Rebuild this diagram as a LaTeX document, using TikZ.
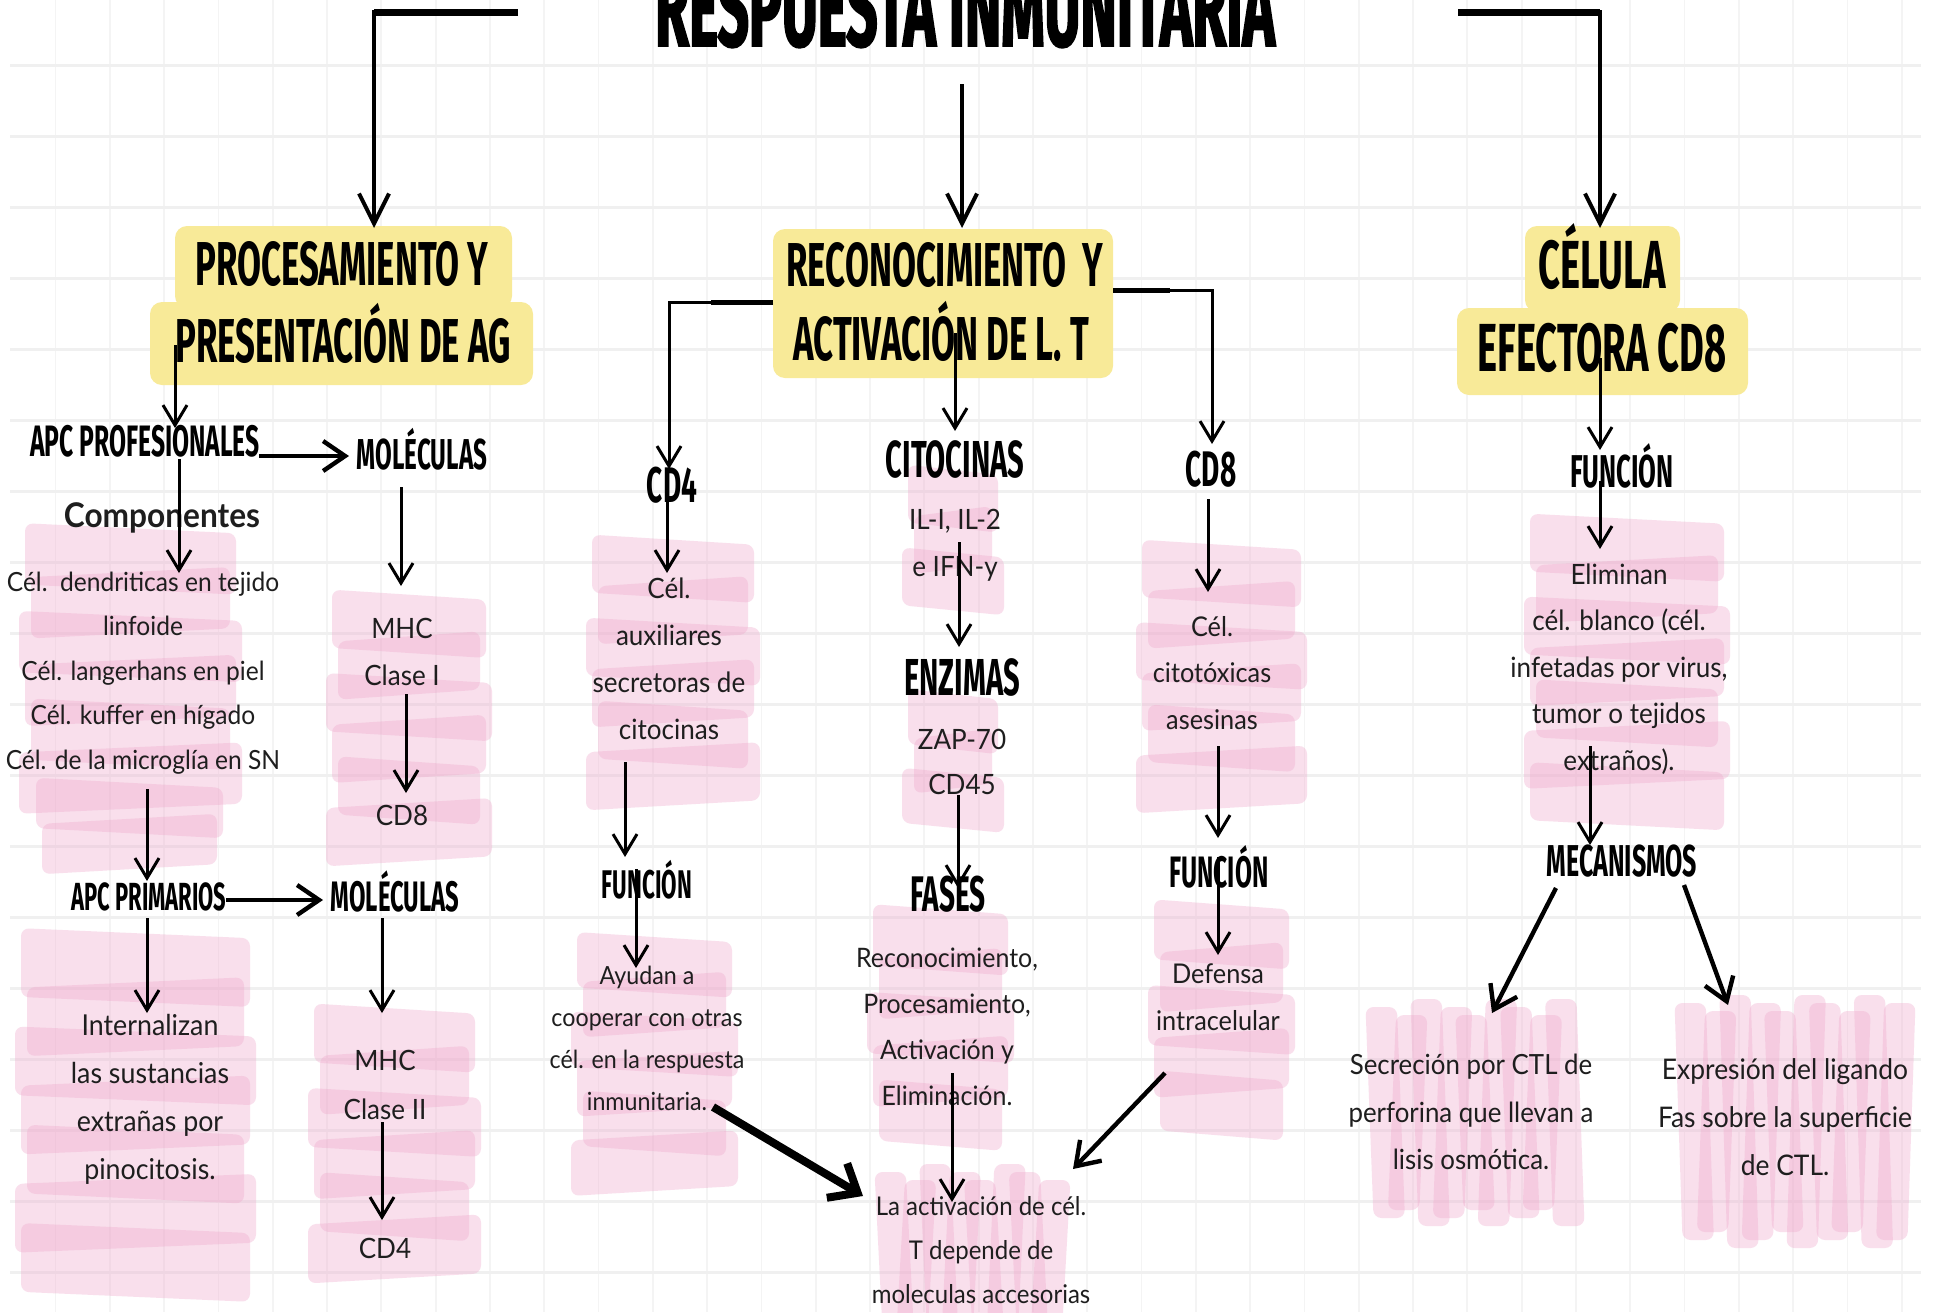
\documentclass[tikz,border=0pt]{standalone}
\usepackage{fontspec}
\setmainfont[FakeStretch=0.93]{Lato}
\newfontfamily\hfont[FakeStretch=0.56]{Fira Sans}
\newfontfamily\tfont[FakeStretch=0.5,FakeBold=1.5]{Fira Sans}
\usetikzlibrary{arrows.meta,calc}
\definecolor{yel}{HTML}{F8EA98}
\definecolor{pk}{HTML}{EFA8CC}
\definecolor{txt}{HTML}{1E1E1E}
\definecolor{gridh}{HTML}{F0F0F0}
\definecolor{gridv}{HTML}{F4F4F4}
\newcommand\hband[5]{%
  \pgfmathsetmacro\pkh{(#4-#2)/#5}%
  \foreach \pki in {1,...,#5}{%
    \pgfmathsetmacro\pya{#2+(\pki-1)*\pkh-0.2*\pkh}%
    \pgfmathsetmacro\pyb{#2+\pki*\pkh+0.2*\pkh}%
    \pgfmathsetmacro\pkd{mod(\pki,2)==0 ? 5 : -5}%
    \pgfmathsetmacro\pxo{mod(\pki*7,3)*6-6}%
    \pgfmathsetmacro\pxa{#1+\pxo}%
    \pgfmathsetmacro\pxb{#3-\pxo}%
    \pgfmathsetmacro\pyaa{\pya+\pkd}%
    \pgfmathsetmacro\pyab{\pya-\pkd}%
    \pgfmathsetmacro\pyba{\pyb+\pkd}%
    \pgfmathsetmacro\pybb{\pyb-\pkd}%
    \fill[pkf] (\pxa,\pyaa) -- (\pxb,\pyab) -- (\pxb,\pybb) -- (\pxa,\pyba) -- cycle;
  }}
\newcommand\vband[5]{%
  \pgfmathsetmacro\pkh{(#3-#1)/#5}%
  \foreach \pki in {1,...,#5}{%
    \pgfmathsetmacro\pxa{#1+(\pki-1)*\pkh-0.2*\pkh}%
    \pgfmathsetmacro\pxb{#1+\pki*\pkh+0.2*\pkh}%
    \pgfmathsetmacro\pkd{mod(\pki,2)==0 ? 4 : -4}%
    \pgfmathsetmacro\pyo{mod(\pki*7,3)*8-8}%
    \pgfmathsetmacro\pya{#2+\pyo}%
    \pgfmathsetmacro\pyb{#4-\pyo}%
    \pgfmathsetmacro\pxaa{\pxa+\pkd}%
    \pgfmathsetmacro\pxab{\pxa-\pkd}%
    \pgfmathsetmacro\pxba{\pxb+\pkd}%
    \pgfmathsetmacro\pxbb{\pxb-\pkd}%
    \fill[pkf] (\pxaa,\pya) -- (\pxba,\pya) -- (\pxbb,\pyb) -- (\pxab,\pyb) -- cycle;
  }}
\begin{document}
\begin{tikzpicture}[x=0.5pt,y=-0.5pt,
  pkf/.style={fill=pk,fill opacity=0.36,rounded corners=4pt},
  hd/.style={inner sep=0,anchor=base,text=black,font=\hfont\bfseries\fontsize{#1}{#1}\selectfont},
  bd/.style args={#1/#2}{inner sep=0,align=center,text=txt,font=\fontsize{#1}{#2}\selectfont},
  arr/.style={draw=black,line width=1.5pt,-{Straight Barb[length=10pt,width=12pt]}},
  midarr/.style={draw=black,line width=2.2pt,-{Straight Barb[length=11pt,width=15pt]}},
  bigarr/.style={draw=black,line width=2pt,-{Straight Barb[length=15pt,width=15pt]}},
  fatarr/.style={draw=black,line width=4pt,-{Straight Barb[length=12pt,width=20pt]}},
  ybox/.style={fill=yel,rounded corners=6pt}]
\useasboundingbox (0,0) rectangle (1933,1312);
\clip (0,0) rectangle (1933,1312);
\fill[white] (0,0) rectangle (1933,1312);
% grid
\foreach \k in {0,...,34} \draw[gridv,line width=0.9pt] ({55.5+54.3*\k},0) -- ({55.5+54.3*\k},1312);
\foreach \k in {0,...,17} \draw[gridh,line width=1.5pt] (10,{65+71*\k}) -- (1921,{65+71*\k});
% pink highlights
\hband{25}{537}{236}{800}{6}
\hband{36}{790}{223}{862}{2}
\hband{332}{603}{486}{853}{6}
\hband{21}{943}{250}{1287}{7}
\hband{314}{1017}{475}{1270}{6}
\hband{592}{548}{754}{797}{6}
\hband{908}{478}{998}{602}{3}
\hband{908}{702}{998}{820}{3}
\hband{1142}{553}{1301}{800}{6}
\hband{577}{945}{732}{1183}{6}
\hband{873}{918}{1008}{1137}{5}
\hband{1154}{913}{1289}{1127}{5}
\vband{883}{1172}{1062}{1330}{8}
\hband{1530}{527}{1724}{817}{7}
\vband{1374}{1007}{1576}{1218}{9}
\vband{1683}{1003}{1907}{1240}{10}
% yellow boxes
\fill[ybox] (175,226) rectangle (512,308);
\fill[ybox] (150,302) rectangle (533,385);
\fill[ybox] (773,229) rectangle (1113,378);
\fill[ybox] (1525,226) rectangle (1680,312);
\fill[ybox] (1457,308) rectangle (1748,395);
% title and headers
\node[inner sep=0,anchor=base,font=\tfont\bfseries\fontsize{55}{55}\selectfont] (title) at (965,46) {RESPUESTA INMUNITARIA};
\node[hd=31] (b1a) at (342,285) {PROCESAMIENTO Y};
\node[hd=31] (b1b) at (343,362) {PRESENTACIÓN DE AG};
\node[hd=31] (b2a) at (945,286) {RECONOCIMIENTO\ \ Y};
\node[hd=31] (b2b) at (941,360) {ACTIVACIÓN DE L. T};
\node[hd=34] (b3a) at (1602,288) {CÉLULA};
\node[hd=34] (b3b) at (1602,371) {EFECTORA CD8};
\node[hd=22] (apcp) at (145,456) {APC PROFESIONALES};
\node[hd=21.6] (mol1) at (422,469) {MOLÉCULAS};
\node[inner sep=0,anchor=base,text=txt,font=\bfseries\fontsize{17}{17}\selectfont] (comp) at (162,527) {Componentes};
\node[hd=19.6] (apcprim) at (149,910) {APC PRIMARIOS};
\node[hd=21.3] (mol2) at (395,911) {MOLÉCULAS};
\node[hd=25] (cd4h) at (672,502) {CD4};
\node[hd=26] (cit) at (955,477) {CITOCINAS};
\node[hd=25] (cd8h) at (1211,486) {CD8};
\node[hd=26] (enz) at (962,695) {ENZIMAS};
\node[hd=25] (fases) at (948,911) {FASES};
\node[hd=20] (fun1) at (647,898) {FUNCIÓN};
\node[hd=22] (fun2) at (1219,887) {FUNCIÓN};
\node[hd=23] (fun3) at (1622,487) {FUNCIÓN};
\node[hd=22.3] (mec) at (1622,876) {MECANISMOS};
% body texts
\node[bd=13.2/22.25] (comptxt) at (143,673) {Cél.\ \ dendriticas en tejido\\linfoide\\Cél. langerhans en piel\\Cél. kuffer en hígado\\Cél. de la microglía en SN};
\node[bd=14/23.5] (mhc1) at (402,652) {MHC\\Clase I};
\node[bd=14/23.5] (cd8a) at (402,815) {CD8};
\node[bd=14.4/24] (intern) at (150,1099) {Internalizan\\las sustancias\\extrañas por\\pinocitosis.};
\node[bd=14/24.5] (mhc2) at (385,1085) {MHC\\Clase II};
\node[bd=14/24.5] (cd4a) at (385,1248) {CD4};
\node[bd=14/23.5] (celaux) at (669,659) {Cél.\\auxiliares\\secretoras de\\citocinas};
\node[bd=12.5/21] (ayud) at (647,1038) {Ayudan a\\cooperar con otras\\cél. en la respuesta\\inmunitaria.};
\node[bd=14/23.5] (il) at (955,545) {IL-I, IL-2\\e IFN-y};
\node[bd=14/22.5] (zap) at (962,762) {ZAP-70\\CD45};
\node[bd=13.4/23] (fastxt) at (947,1027) {Reconocimiento,\\Procesamiento,\\Activación y\\Eliminación.};
\node[bd=12.9/22] (lact) at (981,1250) {La activación de cél.\\T depende de\\moleculas accesorias};
\node[bd=13.6/23.25] (celcit) at (1212,673) {Cél.\\citotóxicas\\asesinas};
\node[bd=13.6/23.5] (def) at (1218,997) {Defensa\\intracelular};
\node[bd=14/23.25] (elim) at (1619,669) {Eliminan\\cél. blanco (cél.\\infetadas por virus,\\tumor o tejidos\\extraños).};
\node[bd=13.9/23.75] (secr) at (1471,1112) {Secreción por CTL de\\perforina que llevan a\\lisis osmótica.};
\node[bd=14.2/24] (expr) at (1785,1117) {Expresión del ligando\\Fas sobre la superficie\\de CTL.};
% connectors from the title
\draw[bigarr] ($(title.base)+(-447,-34)$) -| ($(b1a.base)+(32,-57)$);
\draw[line width=3.5pt] ($(title.base)+(-447,-34)$) -- ($(title.base)+(-591,-34)$);
\draw[bigarr] ($(title.base)+(-3,38)$) -- ($(b2a.base)+(17,-58)$);
\draw[bigarr] ($(title.base)+(493,-34)$) -| ($(b3a.base)+(-2,-60)$);
\draw[line width=3.5pt] ($(title.base)+(493,-34)$) -- ($(title.base)+(635,-34)$);
% left column
\draw[arr] ($(b1b.base)+(-168,-17)$) -- ($(apcp.base)+(30,-28)$);
\draw[midarr] ($(apcp.base)+(114,0)$) -- ($(mol1.base)+(-73,-13)$);
\draw[arr] ($(apcp.base)+(34,3)$) -- ($(comptxt)+(36,-100)$);
\draw[arr] ($(mol1.base)+(-21,18)$) -- ($(mhc1)+(-1,-66)$);
\draw[arr] ($(mhc1)+(4,42)$) -- ($(cd8a)+(4,-22)$);
\draw[arr] ($(comptxt)+(4,116)$) -- ($(apcprim.base)+(-2,-29)$);
\draw[midarr] ($(apcprim.base)+(77,-10)$) -- ($(mol2.base)+(-72,-11)$);
\draw[arr] ($(apcprim.base)+(-2,8)$) -- ($(intern)+(-3,-86)$);
\draw[arr] ($(mol2.base)+(-13,7)$) -- ($(mhc2)+(-3,-72)$);
\draw[arr] ($(mhc2)+(-3,37)$) -- ($(cd4a)+(-3,-28)$);
% middle
\draw[arr] ($(b2b.base)+(-168,-58)$) -| ($(cd4h.base)+(-3,-33)$);
\draw[line width=2.5pt] ($(b2b.base)+(-168,-58)$) -- ($(b2b.base)+(-230,-58)$);
\draw[arr] ($(b2a.base)+(168,4)$) -| ($(cd8h.base)+(1,-42)$);
\draw[line width=2.5pt] ($(b2a.base)+(168,4)$) -- ($(b2a.base)+(225,4)$);
\draw[arr] ($(b2b.base)+(14,-27)$) -- ($(cit.base)+(0,-46)$);
\draw[arr] ($(cd4h.base)+(-5,-9)$) -- ($(celaux)+(-2,-86)$);
\draw[arr] ($(celaux)+(-44,103)$) -- ($(fun1.base)+(-22,-41)$);
\draw[arr] ($(fun1.base)+(-11,-29)$) -- ($(ayud)+(-11,-70)$);
\draw[fatarr] ($(ayud)+(66,69)$) -- ($(lact)+(-118,-54)$);
\draw[arr] ($(il)+(4,-3)$) -- ($(enz.base)+(-3,-48)$);
\draw[arr] ($(zap)+(-4,33)$) -- ($(fases.base)+(10,-23)$);
\draw[arr] ($(fastxt)+(5,46)$) -- ($(lact)+(-29,-48)$);
\draw[arr] ($(cd8h.base)+(-3,13)$) -- ($(celcit)+(-4,-81)$);
\draw[arr] ($(celcit)+(6,73)$) -- ($(fun2.base)+(-1,-49)$);
\draw[arr] ($(fun2.base)+(-1,-30)$) -- ($(def)+(0,-42)$);
\draw[midarr] ($(def)+(-53,76)$) -- ($(lact)+(92,-81)$);
% right column
\draw[arr] ($(b3b.base)+(-2,-13)$) -- ($(fun3.base)+(-22,-37)$);
\draw[arr] ($(fun3.base)+(-22,-6)$) -- ($(elim)+(-19,-120)$);
\draw[arr] ($(elim)+(-29,77)$) -- ($(mec.base)+(-32,-31)$);
\draw[midarr] ($(mec.base)+(-66,12)$) -- ($(secr)+(21,-99)$);
\draw[midarr] ($(mec.base)+(62,9)$) -- ($(expr)+(-57,-112)$);
\end{tikzpicture}
\end{document}
